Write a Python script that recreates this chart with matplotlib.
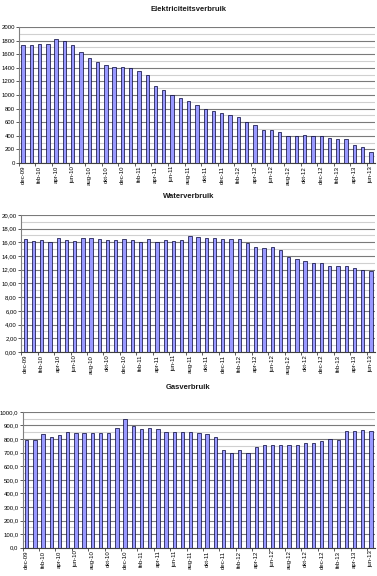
import numpy as np
import matplotlib.pyplot as plt
from matplotlib.ticker import MultipleLocator, FuncFormatter

plt.rcParams['font.family'] = ['Liberation Sans', 'DejaVu Sans']

maanden = ['dec-09',
           'jan-10', 'feb-10', 'mrt-10', 'apr-10', 'mei-10', 'jun-10',
           'jul-10', 'aug-10', 'sep-10', 'okt-10', 'nov-10', 'dec-10',
           'jan-11', 'feb-11', 'mrt-11', 'apr-11', 'mei-11', 'jun-11',
           'jul-11', 'aug-11', 'sep-11', 'okt-11', 'nov-11', 'dec-11',
           'jan-12', 'feb-12', 'mrt-12', 'apr-12', 'mei-12', 'jun-12',
           'jul-12', 'aug-12', 'sep-12', 'okt-12', 'nov-12', 'dec-12',
           'jan-13', 'feb-13', 'mrt-13', 'apr-13', 'mei-13', 'jun-13']

elektriciteit = [1730, 1730, 1750, 1750, 1820, 1800, 1730, 1630, 1550, 1480,
                 1440, 1415, 1410, 1395, 1350, 1300, 1140, 1070, 1000, 960,
                 910, 850, 800, 760, 730, 700, 670, 610, 560, 480,
                 480, 450, 400, 400, 415, 400, 400, 370, 360, 350,
                 270, 240, 160]

water = [16.5, 16.2, 16.3, 16.0, 16.6, 16.3, 16.2, 16.6, 16.6, 16.5,
         16.4, 16.3, 16.5, 16.3, 16.0, 16.5, 16.0, 16.3, 16.2, 16.3,
         16.9, 16.8, 16.6, 16.6, 16.5, 16.5, 16.5, 15.9, 15.3, 15.1,
         15.3, 14.8, 13.9, 13.6, 13.3, 13.0, 13.0, 12.5, 12.5, 12.5,
         12.3, 11.9, 11.8]

gas = [790, 795, 834, 812, 832, 849, 846, 841, 841, 841,
       846, 878, 951, 895, 871, 883, 873, 849, 849, 849,
       849, 846, 834, 815, 717, 700, 722, 700, 739, 754,
       754, 754, 754, 754, 768, 768, 788, 802, 793, 861,
       859, 863, 859]

fig = plt.figure(figsize=(3.77, 5.76), dpi=100)

# (titel, data, ymax, stap, decimalen, axes-positie, titel-y)
grafieken = [
    ('Elektriciteitsverbruik', elektriciteit, 2000, 200, 0, [0.050, 0.717, 0.945, 0.236], 0.984),
    ('Waterverbruik', water, 20, 2, 2, [0.056, 0.389, 0.939, 0.238], 0.658),
    ('Gasverbruik', gas, 1000, 100, 1, [0.060, 0.049, 0.935, 0.236], 0.328),
]

x = np.arange(len(maanden))
for titel, data, ymax, stap, dec, pos, ty in grafieken:
    ax = fig.add_axes(pos)
    ax.bar(x, data, width=0.4, color='#9999ff', edgecolor='#000033', linewidth=0.5, zorder=3)
    ax.set_xlim(-0.5, len(maanden) - 0.5)
    ax.set_ylim(0, ymax)
    ax.yaxis.set_major_locator(MultipleLocator(stap))
    ax.yaxis.set_minor_locator(MultipleLocator(stap / 2))
    ax.yaxis.set_major_formatter(FuncFormatter(
        lambda v, p, d=dec: ('%.*f' % (d, v)).replace('.', ',')))
    ax.grid(True, which='major', axis='y', color='#7a7a7a', linewidth=0.8, zorder=0)
    ax.grid(True, which='minor', axis='y', color='#d0d0d0', linewidth=0.8, zorder=0)
    ax.set_xticks(x[::2])
    ax.set_xticklabels(maanden[::2], rotation=90, fontsize=4.3)
    ax.set_xticks(np.arange(-0.5, len(maanden), 2), minor=True)
    ax.tick_params(axis='x', which='major', length=0, pad=2)
    ax.tick_params(axis='x', which='minor', length=2, width=0.6, color='#404040')
    ax.tick_params(axis='y', which='major', labelsize=4.3, length=2, width=0.6, pad=1, color='#404040')
    ax.tick_params(axis='y', which='minor', length=0)
    for s in ['top', 'right']:
        ax.spines[s].set_visible(False)
    ax.spines['left'].set_color('#808080')
    ax.spines['left'].set_linewidth(0.8)
    ax.spines['bottom'].set_color('#404040')
    ax.spines['bottom'].set_linewidth(0.8)
    fig.text(0.5, ty, titel, ha='center', va='center', fontsize=5.5, fontweight='bold', color='#1a1a1a')

fig.savefig('out.png', dpi=100)
